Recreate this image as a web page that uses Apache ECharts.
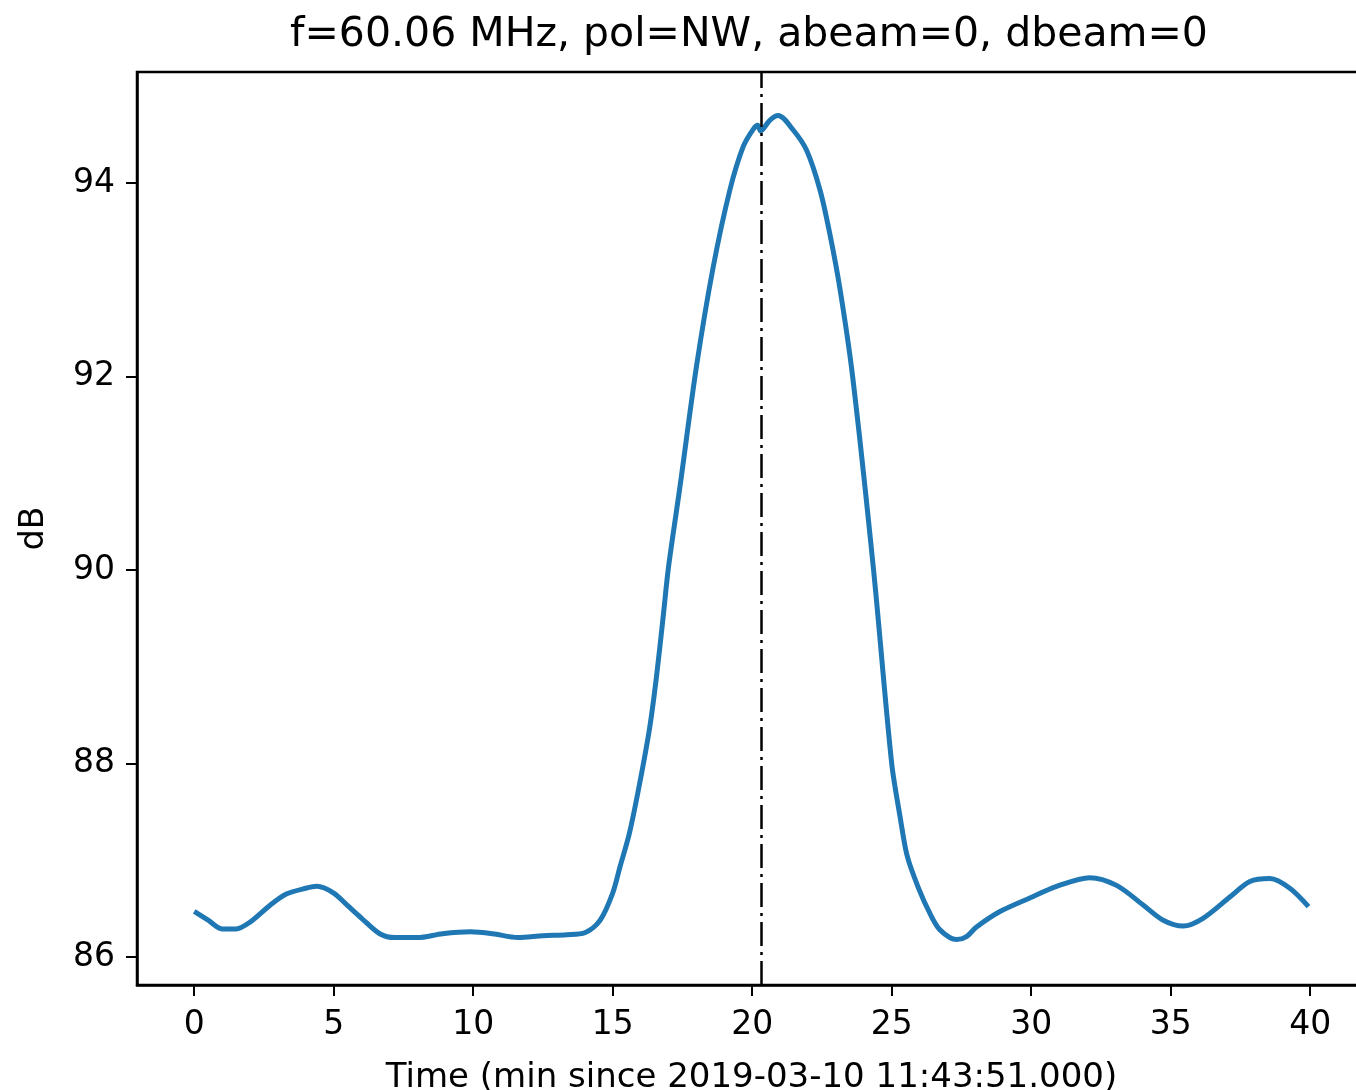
<!DOCTYPE html>
<html>
<head>
<meta charset="utf-8">
<script src="https://cdn.jsdelivr.net/npm/echarts@6/dist/echarts.min.js"></script>
<style>html,body{margin:0;padding:0;background:#fff;}#c{width:1356px;height:1090px;}</style>
</head>
<body>
<div id="c"></div>
<script>
const titleText = 'f=60.06 MHz, pol=NW, abeam=0, dbeam=0';
const xLabel = 'Time (min since 2019-03-10 11:43:51.000)';
const yLabel = 'dB';
const xTicks = [0, 5, 10, 15, 20, 25, 30, 35, 40];
const yTicks = [86, 88, 90, 92, 94];
const markerTime = 20.31;
const times = [0, 0.5, 1.0, 1.5, 2.0, 2.7, 3.3, 4.0, 4.4, 5.0, 5.5, 6.0, 6.65, 7.2, 8.0, 8.9, 9.9, 10.7, 11.6, 12.5, 13.35, 14.0, 14.55, 15.0, 15.26, 15.6, 15.97, 16.33, 16.57, 16.81, 17.0, 17.41, 18.0, 18.6, 19.2, 19.68, 20.04, 20.2, 20.3, 20.63, 20.93, 21.47, 21.95, 22.43, 22.78, 23.15, 23.6, 24.35, 25.0, 25.3, 25.55, 25.95, 26.37, 26.73, 27.33, 27.68, 28.04, 28.88, 29.95, 30.91, 32.1, 33.06, 34.0, 34.73, 35.45, 36.16, 37.12, 37.84, 38.56, 39.27, 39.94];
const dB = [86.47, 86.38, 86.29, 86.29, 86.36, 86.53, 86.65, 86.71, 86.73, 86.66, 86.53, 86.40, 86.24, 86.20, 86.20, 86.24, 86.26, 86.24, 86.20, 86.22, 86.23, 86.25, 86.38, 86.66, 86.93, 87.28, 87.80, 88.38, 88.90, 89.52, 90.03, 90.86, 92.10, 93.13, 93.93, 94.38, 94.56, 94.60, 94.54, 94.65, 94.70, 94.55, 94.34, 93.93, 93.48, 92.9, 92.0, 90.0, 88.0, 87.45, 87.05, 86.72, 86.45, 86.28, 86.18, 86.21, 86.31, 86.47, 86.61, 86.73, 86.82, 86.74, 86.54, 86.38, 86.32, 86.40, 86.62, 86.78, 86.81, 86.71, 86.52];

const seriesData = times.map((t, i) => [t, dB[i]]);
const font = 'DejaVu Sans';
const chart = echarts.init(document.getElementById('c'), null, {renderer: 'canvas'});
chart.setOption({
  animation: false,
  backgroundColor: '#fff',
  title: {
    text: titleText, left: 744, top: 10, textAlign: 'center',
    textStyle: {fontFamily: font, fontSize: 41, fontWeight: 'normal', color: '#000'}
  },
  grid: {left: 137, top: 72, width: 1229, height: 913, outerBoundsMode: 'none', containLabel: false, show: true, borderColor: '#000', borderWidth: 2.5, backgroundColor: 'transparent'},
  xAxis: {
    type: 'value', min: -2.05, max: 42,
    name: xLabel, nameLocation: 'middle', nameGap: 76,
    nameTextStyle: {fontFamily: font, fontSize: 34, color: '#000'},
    axisLine: {show: true, onZero: false, lineStyle: {color: '#000', width: 2.5}},
    axisTick: {show: true, length: 11, customValues: xTicks, lineStyle: {color: '#000', width: 2}},
    axisLabel: {customValues: xTicks, margin: 24, fontFamily: font, fontSize: 33, color: '#000'},
    splitLine: {show: false}
  },
  yAxis: {
    type: 'value', min: 85.71, max: 95.15,
    name: yLabel, nameLocation: 'middle', nameGap: 86, nameRotate: 90,
    nameTextStyle: {fontFamily: font, fontSize: 33, color: '#000'},
    axisLine: {show: true, onZero: false, lineStyle: {color: '#000', width: 2.5}},
    axisTick: {show: true, length: 11, customValues: yTicks, lineStyle: {color: '#000', width: 2}},
    axisLabel: {customValues: yTicks, margin: 22, fontFamily: font, fontSize: 33, color: '#000'},
    splitLine: {show: false}
  },
  series: [{
    type: 'line', data: seriesData, showSymbol: false, smooth: 0.3,
    lineStyle: {color: '#1f77b4', width: 5},
    markLine: {
      silent: true, symbol: 'none', label: {show: false},
      lineStyle: {color: '#000', width: 2.5, type: [24, 6, 3, 6]},
      data: [{xAxis: markerTime}]
    }
  }]
});
</script>
</body>
</html>
